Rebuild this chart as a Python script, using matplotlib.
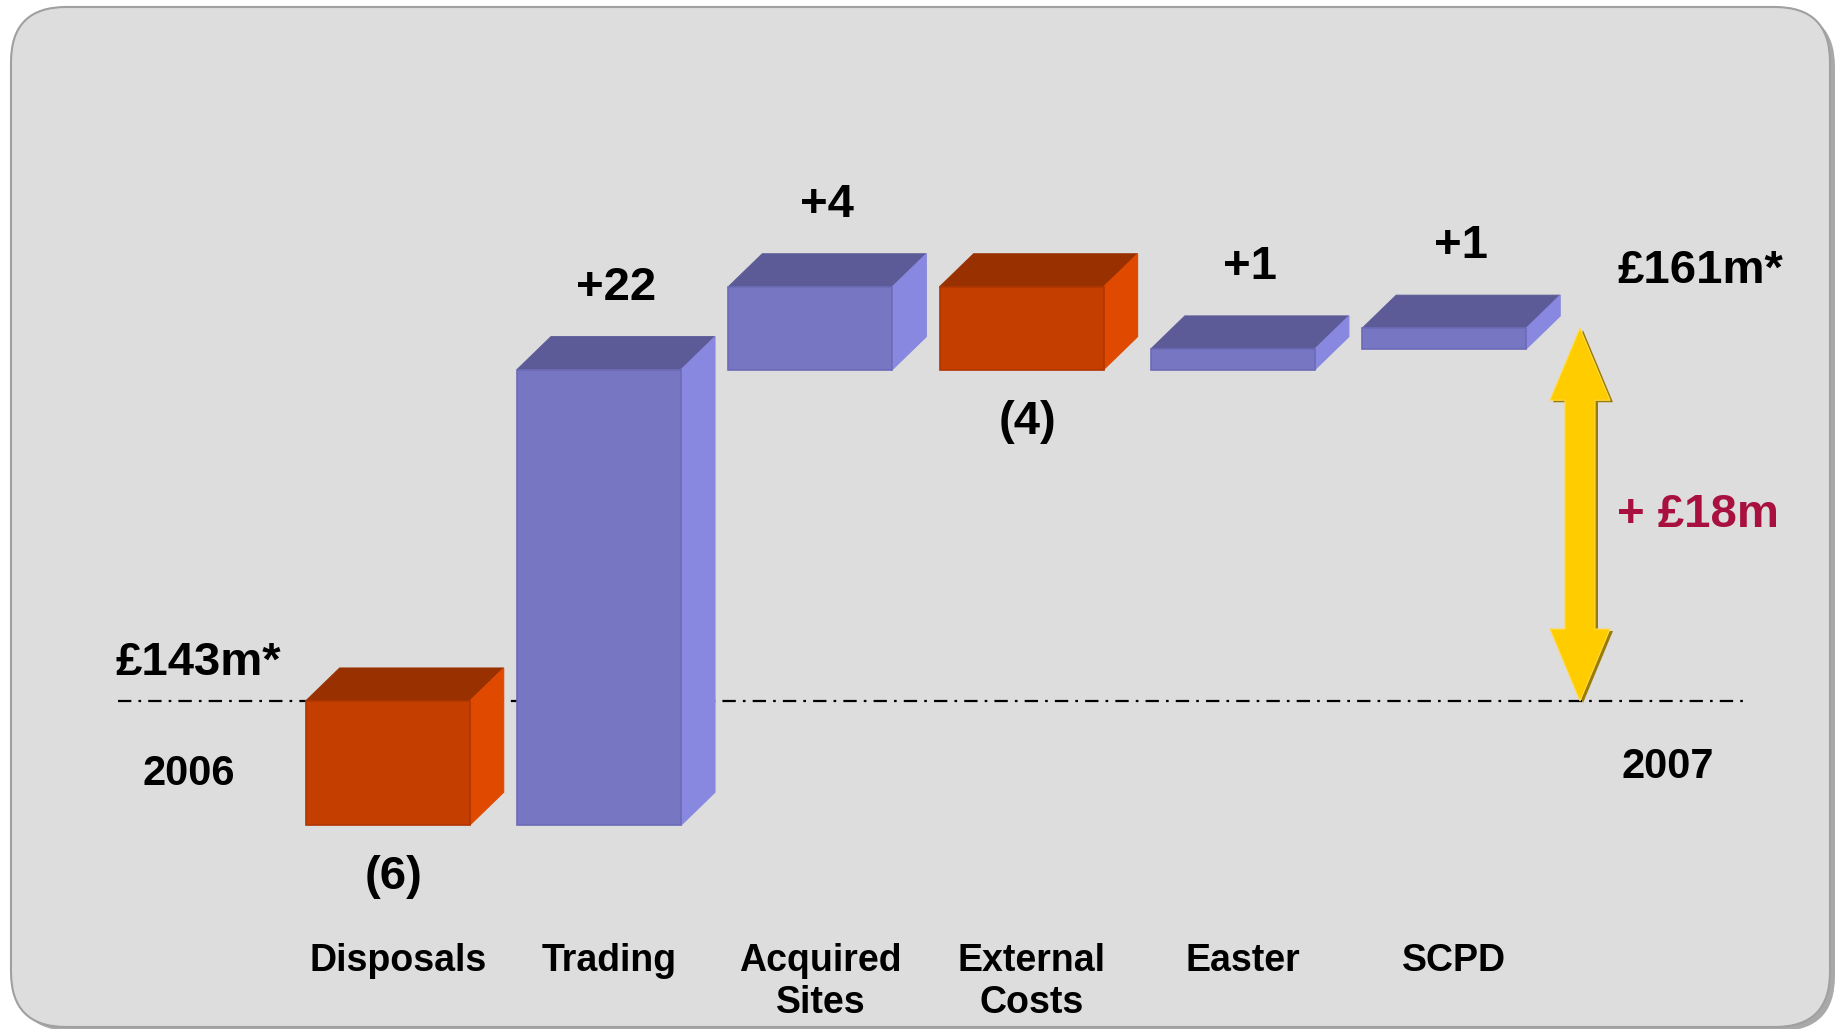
import matplotlib
matplotlib.use("Agg")
import matplotlib.pyplot as plt
from matplotlib.patches import Polygon, FancyBboxPatch, Rectangle
from matplotlib.transforms import IdentityTransform, blended_transform_factory
import numpy as np

# ---------------- data ----------------
categories = ["Disposals", "Trading", "Acquired\nSites", "External\nCosts", "Easter", "SCPD"]
changes = [-6, 22, 4, -4, 1, 1]
change_labels = ["(6)", "+22", "+4", "(4)", "+1", "+1"]
start_value = 143
end_value = 161
start_label = "£143m*"
end_label = "£161m*"
delta_label = "+ £18m"
year_labels = ["2006", "2007"]

plt.rcParams['font.family'] = ['Liberation Sans', 'DejaVu Sans']

W, H = 1837, 1029
fig = plt.figure(figsize=(W / 100, H / 100), dpi=100)
fig.patch.set_facecolor('white')

# ---------------- rounded panel ----------------
shadow = FancyBboxPatch((16, -2), 1819, 1019, boxstyle="round,pad=0,rounding_size=55",
                        transform=IdentityTransform(), facecolor='#A9A9A9', edgecolor='none',
                        zorder=-3)
fig.add_artist(shadow)
panel = FancyBboxPatch((11, 2), 1819, 1020, boxstyle="round,pad=0,rounding_size=55",
                       transform=IdentityTransform(), facecolor='#DDDDDD', edgecolor='#A0A0A0',
                       linewidth=1.5, zorder=-2)
fig.add_artist(panel)

# ---------------- axes / scales ----------------
ax = fig.add_axes([0, 0, 1, 1])
ax.set_axis_off()
ax.patch.set_visible(False)
ax.set_zorder(1)

x0_px, step_px = 387.7, 211.3
v_ref, y_ref_px, ppu = 155, 452.5, 20.71
ax.set_xlim(-x0_px / step_px, (W - x0_px) / step_px)
ax.set_ylim(v_ref - (H - y_ref_px) / ppu, v_ref + y_ref_px / ppu)


def dxp(px):
    return px / step_px


def dyp(px):
    return px / ppu


bar_w = dxp(164)
depth_x, depth_y = dxp(34), dyp(33)

purple = dict(front='#7676C3', top='#5C5B97', side='#8888E0', edge='#6B6BB6')
orange = dict(front='#C43E00', top='#993000', side='#E04A00', edge='#B03600')

# ---------------- baseline ----------------
ax.plot([dxp(118 - x0_px), dxp(1746 - x0_px)], [start_value, start_value],
        color='black', lw=1.6, dashes=(6, 3.2, 1.2, 3.2), zorder=1)

# ---------------- bars ----------------
levels = start_value + np.cumsum(changes)
prev = np.concatenate([[start_value], levels[:-1]])

for i, (p, c, ch, lab) in enumerate(zip(prev, levels, changes, change_labels)):
    lo, hi = min(p, c), max(p, c)
    col = purple if ch > 0 else orange
    xl, xr = i - bar_w / 2, i + bar_w / 2
    top = Polygon([(xl, hi), (xr, hi), (xr + depth_x, hi + depth_y), (xl + depth_x, hi + depth_y)],
                  closed=True, facecolor=col['top'], edgecolor=col['top'], lw=0.8, zorder=3)
    side = Polygon([(xr, lo), (xr, hi), (xr + depth_x, hi + depth_y), (xr + depth_x, lo + depth_y)],
                   closed=True, facecolor=col['side'], edgecolor=col['side'], lw=0.8, zorder=3)
    front = Rectangle((xl, lo), bar_w, hi - lo, facecolor=col['front'], edgecolor=col['edge'],
                      lw=1.2, zorder=4)
    for art in (top, side, front):
        ax.add_patch(art)
    if ch > 0:
        ax.text(i + depth_x / 2, hi + depth_y + dyp(27), lab, ha='center', va='bottom',
                fontsize=34, fontweight='bold', color='black', zorder=5)
    else:
        ax.text(i + dxp(6), lo - dyp(30), lab, ha='center', va='top',
                fontsize=34, fontweight='bold', color='black', zorder=5)

# ---------------- category labels ----------------
tb = blended_transform_factory(ax.transData, ax.transAxes)
for i, name in enumerate(categories):
    ax.text(i + dxp(10), 1 - 943 / H, name, transform=tb, ha='center', va='top',
            fontsize=27, fontweight='bold', linespacing=1.2, color='black')

# ---------------- side annotations ----------------
ax.text(dxp(116 - x0_px), start_value + dyp(26), start_label, ha='left', va='baseline',
        fontsize=34, fontweight='bold', color='black')
ax.text(dxp(189 - x0_px), start_value - dyp(73), year_labels[0], ha='center', va='center',
        fontsize=30, fontweight='bold', color='black')
ax.text(dxp(1668 - x0_px), start_value - dyp(66), year_labels[1], ha='center', va='center',
        fontsize=30, fontweight='bold', color='black')
ax.text(dxp(1617 - x0_px), end_value + dyp(57), end_label, ha='left', va='center',
        fontsize=34, fontweight='bold', color='black')
ax.text(dxp(1617 - x0_px), (start_value + end_value) / 2, delta_label, ha='left', va='center',
        fontsize=34, fontweight='bold', color='#A8103F')

# ---------------- double arrow ----------------
xc = dxp(1580 - x0_px)
hw, sw, hl = dxp(30), dxp(15), dyp(72)


def arrow_verts(x, top, bot):
    return [(x, top), (x + hw, top - hl), (x + sw, top - hl), (x + sw, bot + hl),
            (x + hw, bot + hl), (x, bot), (x - hw, bot + hl), (x - sw, bot + hl),
            (x - sw, top - hl), (x - hw, top - hl)]


ax.add_patch(Polygon(arrow_verts(xc + dxp(3), end_value - dyp(2), start_value - dyp(2)),
                     closed=True, facecolor='#9C7C00', edgecolor='none', zorder=5))
ax.add_patch(Polygon(arrow_verts(xc, end_value, start_value), closed=True,
                     facecolor='#FFCC00', edgecolor='#FFDB4D', lw=0.8, zorder=6))

fig.savefig('out.png', dpi=100, facecolor=fig.get_facecolor())
